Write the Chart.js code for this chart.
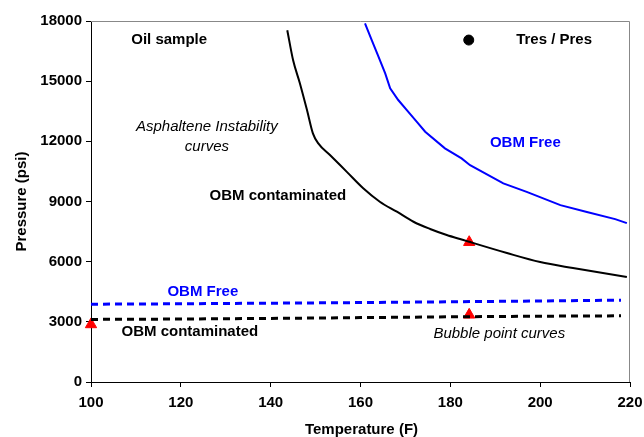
<!DOCTYPE html>
<html>
<head>
<meta charset="utf-8">
<script src="https://cdn.jsdelivr.net/npm/chart.js@4"></script>
<style>
    html, body { margin: 0; padding: 0; background: #fff; }
    #wrap { width: 644px; height: 437px; }
</style>
</head>
<body>
<div id="wrap"><canvas id="chart" width="644" height="437"></canvas></div>
<script>
// asphaltene instability curves
const contamT = [143.7, 145.0, 146.5, 148.1, 149.4, 150.6, 153.2, 156.9, 160.6, 164.3, 168.1, 171.8, 175.5, 179.2, 182.9, 184.2, 192.6, 200, 207.3, 219.3];
const contamP = [17540, 16040, 14900, 13550, 12400, 11900, 11320, 10490, 9660, 8990, 8490, 7990, 7630, 7330, 7080, 6990, 6430, 5980, 5680, 5235];
const freeT = [161.0, 162.5, 164.0, 165.5, 166.6, 168.4, 170.6, 172.5, 174.4, 178.8, 182.5, 184.4, 191.8, 197, 204.5, 210.4, 216.7, 219.3];
const freeP = [17885, 17050, 16220, 15390, 14640, 14060, 13480, 12980, 12480, 11650, 11150, 10810, 9900, 9480, 8820, 8480, 8120, 7920];

// bubble point curves
const bubbleT = [100, 120, 140, 160, 180, 200, 218];
const bubbleFreeP = [3880, 3900, 3930, 3960, 4000, 4040, 4080];
const bubbleContamP = [3120, 3140, 3170, 3210, 3250, 3280, 3300];

// measured points
const measT = [100, 184.2, 184.2];
const measP = [2870, 6970, 3350];
const resT = [184.1];
const resP = [17050];

const xTicks = [100, 120, 140, 160, 180, 200, 220];
const yTicks = [0, 3000, 6000, 9000, 12000, 15000, 18000];

const pts = (xs, ys) => xs.map((x, i) => ({ x, y: ys[i] }));

const FONT = '"Liberation Sans", Arial, sans-serif';
const bold = `bold 15px ${FONT}`;
const ital = `italic 15px ${FONT}`;

const labels = [
    { text: 'Oil sample', t: 117.4, p: 17050, color: '#000', font: bold },
    { text: 'Tres / Pres', t: 203.1, p: 17050, color: '#000', font: bold },
    { text: 'Asphaltene Instability', t: 125.8, p: 12710, color: '#000', font: ital },
    { text: 'curves', t: 125.8, p: 11720, color: '#000', font: ital },
    { text: 'OBM contaminated', t: 141.6, p: 9270, color: '#000', font: bold },
    { text: 'OBM Free', t: 196.7, p: 11900, color: '#0000ff', font: bold },
    { text: 'OBM Free', t: 124.9, p: 4490, color: '#0000ff', font: bold },
    { text: 'OBM contaminated', t: 122.0, p: 2490, color: '#000', font: bold },
    { text: 'Bubble point curves', t: 190.9, p: 2390, color: '#000', font: ital }
];

const annotate = {
    id: 'annotate',
    afterDatasetsDraw(chart) {
        const { ctx, scales: { x, y }, chartArea: a } = chart;
        ctx.save();
        // grey frame top / right
        ctx.strokeStyle = '#888';
        ctx.lineWidth = 1;
        ctx.beginPath();
        ctx.moveTo(a.left, a.top + 0.5);
        ctx.lineTo(a.right - 0.5, a.top + 0.5);
        ctx.lineTo(a.right - 0.5, a.bottom);
        ctx.stroke();
        ctx.textAlign = 'center';
        ctx.textBaseline = 'middle';
        labels.forEach(l => {
            ctx.font = l.font;
            ctx.fillStyle = l.color;
            ctx.fillText(l.text, x.getPixelForValue(l.t), y.getPixelForValue(l.p));
        });
        // axis titles
        ctx.font = bold;
        ctx.fillStyle = '#000';
        ctx.fillText('Temperature (F)', (a.left + a.right) / 2 + 1, a.bottom + 48);
        ctx.translate(21.5, (a.top + a.bottom) / 2);
        ctx.rotate(-Math.PI / 2);
        ctx.fillText('Pressure (psi)', 0, 0);
        ctx.restore();
    }
};

const tickFont = { family: FONT, size: 15, weight: 'bold' };

new Chart(document.getElementById('chart'), {
    type: 'scatter',
    data: {
        datasets: [
            {
                data: pts(contamT, contamP),
                showLine: true, borderColor: '#000', borderWidth: 2,
                pointRadius: 0, cubicInterpolationMode: 'monotone'
            },
            {
                data: pts(freeT, freeP),
                showLine: true, borderColor: '#0000ff', borderWidth: 2,
                pointRadius: 0, tension: 0
            },
            {
                data: pts(bubbleT, bubbleFreeP),
                showLine: true, borderColor: '#0000ff', borderWidth: 3,
                borderDash: [7, 5], pointRadius: 0
            },
            {
                data: pts(bubbleT, bubbleContamP),
                showLine: true, borderColor: '#000', borderWidth: 3,
                borderDash: [7, 5], pointRadius: 0
            },
            {
                data: pts(measT, measP),
                pointStyle: 'triangle', pointRadius: 6.5,
                backgroundColor: '#ff0000', borderColor: '#ff0000', borderWidth: 1,
                clip: false
            },
            {
                data: pts(resT, resP),
                pointStyle: 'circle', pointRadius: 5,
                backgroundColor: '#000', borderColor: '#000',
                clip: false
            }
        ]
    },
    options: {
        responsive: false,
        animation: false,
        layout: { padding: { left: 0, right: 14, top: 21, bottom: 0 } },
        plugins: {
            legend: { display: false },
            tooltip: { enabled: false }
        },
        scales: {
            x: {
                type: 'linear', min: 100, max: 220,
                afterBuildTicks: s => { s.ticks = xTicks.map(v => ({ value: v })); },
                afterFit: s => { s.height = 55; s.paddingLeft = 0; s.paddingRight = 0; },
                border: { color: '#000', width: 1 },
                grid: { drawOnChartArea: false, color: '#000', tickLength: 5 },
                ticks: { color: '#000', font: tickFont, padding: 7, maxRotation: 0, callback: v => String(v) }
            },
            y: {
                type: 'linear', min: 0, max: 18000,
                afterBuildTicks: s => { s.ticks = yTicks.map(v => ({ value: v })); },
                afterFit: s => { s.width = 91; s.paddingTop = 0; s.paddingBottom = 0; },
                border: { color: '#000', width: 1 },
                grid: { drawOnChartArea: false, color: '#000', tickLength: 5 },
                ticks: { color: '#000', font: tickFont, padding: 4, callback: v => String(v) }
            }
        }
    },
    plugins: [annotate]
});
</script>
</body>
</html>
